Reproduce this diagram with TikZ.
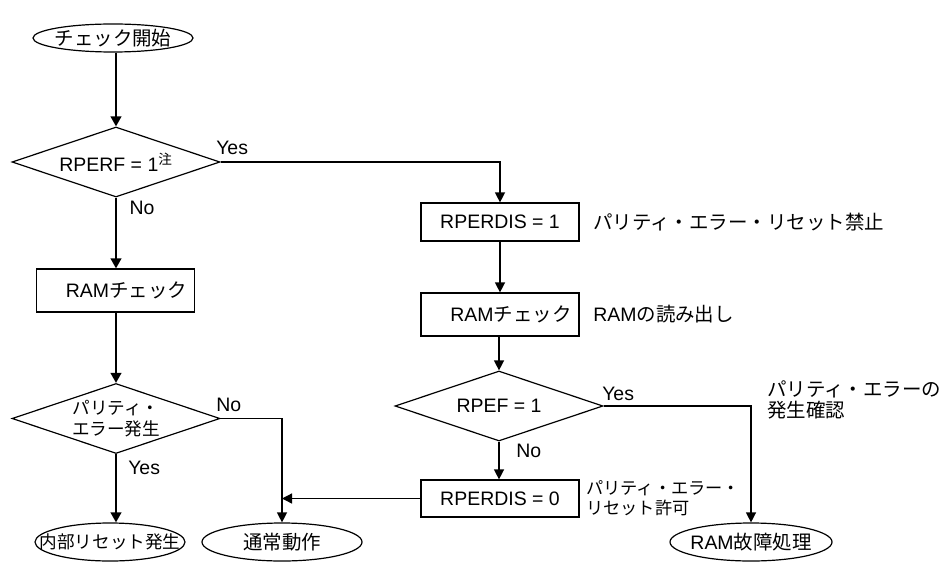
\documentclass[tikz,border=0pt]{standalone}
\usepackage{fontspec}
\setmainfont{Liberation Sans}
\newfontfamily\jp{Noto Sans CJK JP}
\usetikzlibrary{shapes.geometric,arrows.meta}
\begin{document}
\begin{tikzpicture}[x=0.75pt,y=-0.75pt,
  txt/.style={font=\fontsize{14.6}{15.75}\selectfont},
  smalltxt/.style={font=\fontsize{13.2}{15.75}\selectfont},
  termshape/.style={draw, ellipse, line width=0.9pt, inner sep=0pt},
  tlabel/.style={txt, inner sep=0pt},
  proc/.style={txt, draw, rectangle, line width=0.9pt, minimum width=118.5pt, inner sep=0pt},
  procR/.style={proc, text width=107.25pt, inner xsep=5.625pt, align=right},
  dec/.style={txt, draw, diamond, aspect=3, line width=0.9pt, inner sep=0pt,
              minimum width=156pt, minimum height=52.5pt, align=center},
  lbl/.style={txt, inner sep=0pt},
  note/.style={txt, inner sep=0pt, anchor=west, align=left},
  arr/.style={-{Triangle[length=7.5pt,width=7.5pt]}, line width=1pt},
  arrL/.style={-{Triangle[length=7.5pt,width=8pt]}, line width=1.4pt}]
\useasboundingbox (0,0) rectangle (944,563);

% left column
\node[termshape, minimum width=120pt, minimum height=21pt,
      label={[tlabel]center:{\jp チェック開始}}] (start) at (113,38) {};
\node[dec] (d1) at (116,162) {RPERF = 1{\jp\textsuperscript{注}}};
\node[procR, minimum height=32.25pt] (ram1) at (115.5,290.5) {RAM{\jp チェック}};
\node[dec, smalltxt] (d2) at (116,418.5) {{\jp パリティ・}\\{\jp エラー発生}};
\node[termshape, minimum width=112.5pt, minimum height=28.5pt,
      label={[tlabel, smalltxt]center:{\jp 内部リセット発生}}] (e1) at (110,542) {};
\node[termshape, minimum width=120pt, minimum height=28.5pt,
      label={[tlabel]center:{\jp 通常動作}}] (e2) at (282,542) {};

% right column
\node[proc, minimum height=28.5pt] (rb1) at (500,222) {RPERDIS = 1};
\node[procR, minimum height=32.25pt] (rb2) at (500,314.5) {RAM{\jp チェック}};
\node[dec] (d3) at (499,406) {RPEF = 1};
\node[proc, minimum height=27.75pt] (rb3) at (500,498.5) {RPERDIS = 0};
\node[termshape, minimum width=121.5pt, minimum height=28.5pt,
      label={[tlabel]center:{RAM\jp 故障処理}}] (e3) at (751,542) {};

% notes
\node[note] (n1) at (593,222) {\jp パリティ・エラー・リセット禁止};
\node[note] (n2) at (593,314.5) {RAM{\jp の読み出し}};
\node[note] (n3) at (767,400) {{\jp パリティ・エラーの}\\{\jp 発生確認}};
\node[note, font=\fontsize{12.9}{15}\selectfont] (n4) at (586,498) {{\jp パリティ・エラー・}\\{\jp リセット許可}};

% yes / no labels
\node[lbl, anchor=west] (y1) at (216,148) {Yes};
\node[lbl] (no1) at (142,208) {No};
\node[lbl, anchor=west] (no2) at (216,405) {No};
\node[lbl, anchor=west] (y2) at (128,468) {Yes};
\node[lbl, anchor=west] (y3) at (602,394) {Yes};
\node[lbl, anchor=west] (no3) at (516,451) {No};

% connectors
\draw[arrL] (d1.north |- start.south) -- (d1.north);
\draw[arrL] (d1.south) -- (d1.south |- ram1.north);
\draw[arrL] (d2.north |- ram1.south) -- (d2.north);
\draw[arrL] (d2.south) -- (d2.south |- e1.north);
\draw[arr] (d2.east) -| (e2.north);
\draw[arr] (rb3.west) -- (rb3.west -| e2.north);
\draw[arr] (d1.east) -| (rb1.north);
\draw[arr] (rb1) -- (rb2);
\draw[arr] (rb2.south) -- (rb2.south -| d3.north) -- (d3.north);
\draw[arr] (d3.south) -- (d3.south |- rb3.north);
\draw[arr] (d3.east) -| (e3.north);
\end{tikzpicture}
\end{document}
